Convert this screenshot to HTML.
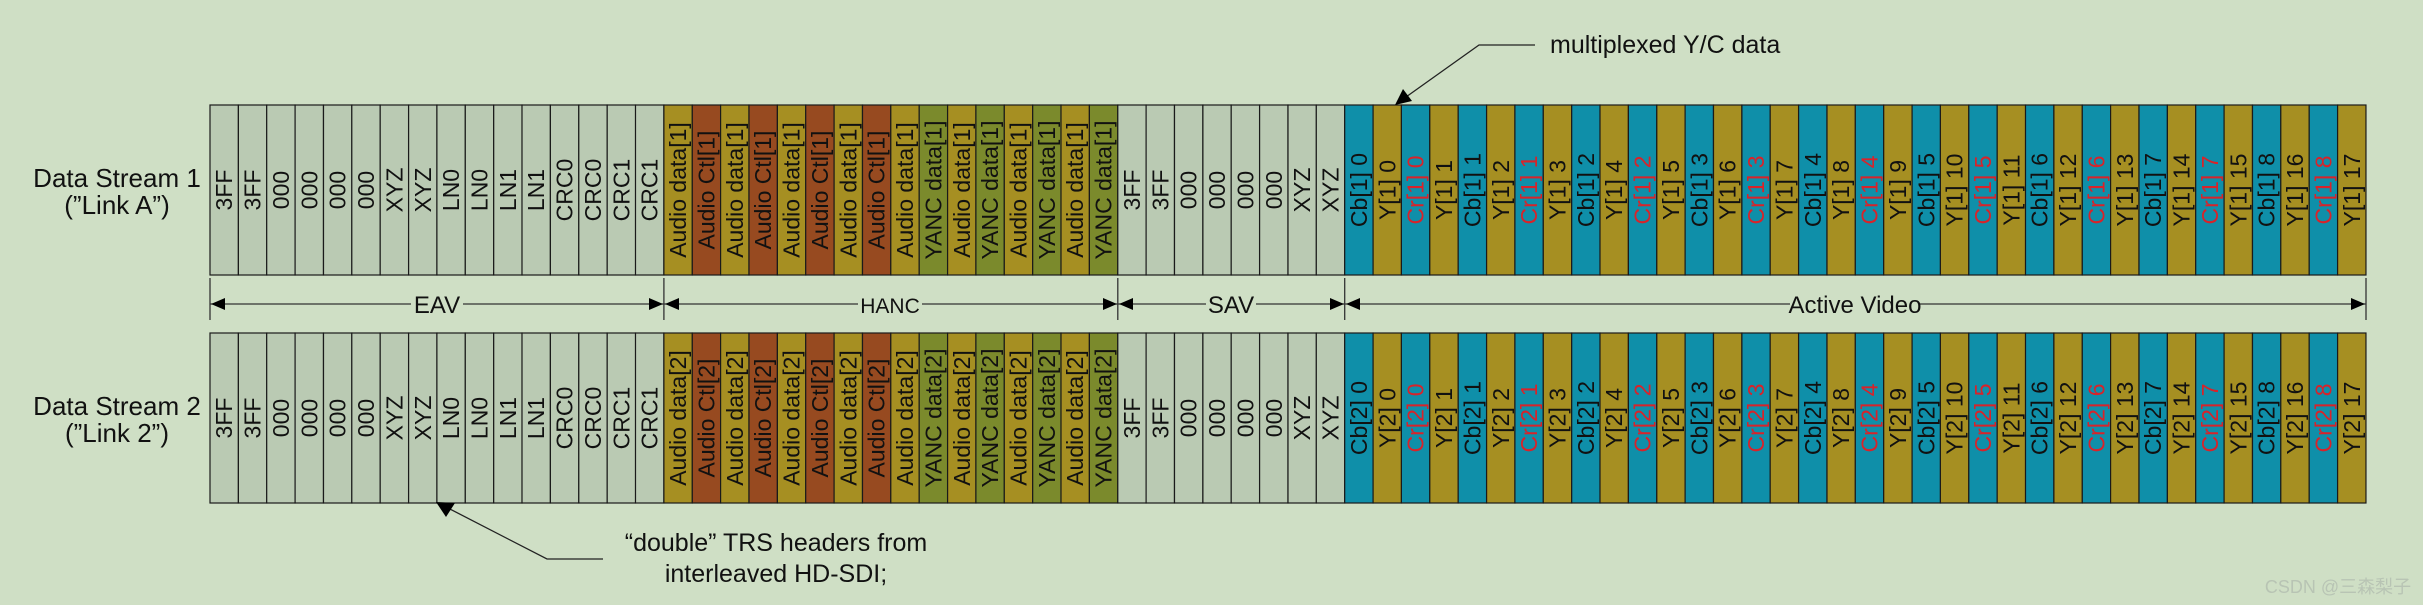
<!DOCTYPE html>
<html><head><meta charset="utf-8"><style>
html,body{margin:0;padding:0;background:#cfdfc5;}
svg{display:block;font-family:"Liberation Sans","Noto Sans CJK SC",sans-serif;}
rect.c{width:28.37px;height:170px;stroke:#1a1a1a;stroke-width:1.2;}
.g rect{fill:#bacab3}.o rect{fill:#a68f22}.r rect{fill:#974a20}.v rect{fill:#7b8a2c}.b rect{fill:#0f8fa9}
text.t{font-size:23px;fill:#111;text-anchor:middle;dominant-baseline:central;}
.red text.t{fill:#d8232a}
</style></head><body>
<svg width="2423" height="605" viewBox="0 0 2423 605" xmlns="http://www.w3.org/2000/svg">
<rect width="2423" height="605" fill="#cfdfc5"/>
<defs>
<g id="x"/>
</defs>
<!-- left labels -->
<text x="117" y="187" font-size="26" text-anchor="middle" fill="#111">Data Stream 1</text>
<text x="117" y="214" font-size="26" text-anchor="middle" fill="#111">(”Link A”)</text>
<text x="117" y="415" font-size="26" text-anchor="middle" fill="#111">Data Stream 2</text>
<text x="117" y="442" font-size="26" text-anchor="middle" fill="#111">(”Link 2”)</text>

<!-- EAV -->
<g class="g" transform="translate(210,0)"><rect class="c" y="105"/><rect class="c" y="333"/><text class="t" transform="translate(14.2,190) rotate(-90)">3FF</text><text class="t" transform="translate(14.2,418) rotate(-90)">3FF</text></g>
<g class="g" transform="translate(238.4,0)"><rect class="c" y="105"/><rect class="c" y="333"/><text class="t" transform="translate(14.2,190) rotate(-90)">3FF</text><text class="t" transform="translate(14.2,418) rotate(-90)">3FF</text></g>
<g class="g" transform="translate(266.7,0)"><rect class="c" y="105"/><rect class="c" y="333"/><text class="t" transform="translate(14.2,190) rotate(-90)">000</text><text class="t" transform="translate(14.2,418) rotate(-90)">000</text></g>
<g class="g" transform="translate(295.1,0)"><rect class="c" y="105"/><rect class="c" y="333"/><text class="t" transform="translate(14.2,190) rotate(-90)">000</text><text class="t" transform="translate(14.2,418) rotate(-90)">000</text></g>
<g class="g" transform="translate(323.5,0)"><rect class="c" y="105"/><rect class="c" y="333"/><text class="t" transform="translate(14.2,190) rotate(-90)">000</text><text class="t" transform="translate(14.2,418) rotate(-90)">000</text></g>
<g class="g" transform="translate(351.8,0)"><rect class="c" y="105"/><rect class="c" y="333"/><text class="t" transform="translate(14.2,190) rotate(-90)">000</text><text class="t" transform="translate(14.2,418) rotate(-90)">000</text></g>
<g class="g" transform="translate(380.2,0)"><rect class="c" y="105"/><rect class="c" y="333"/><text class="t" transform="translate(14.2,190) rotate(-90)">XYZ</text><text class="t" transform="translate(14.2,418) rotate(-90)">XYZ</text></g>
<g class="g" transform="translate(408.6,0)"><rect class="c" y="105"/><rect class="c" y="333"/><text class="t" transform="translate(14.2,190) rotate(-90)">XYZ</text><text class="t" transform="translate(14.2,418) rotate(-90)">XYZ</text></g>
<g class="g" transform="translate(436.9,0)"><rect class="c" y="105"/><rect class="c" y="333"/><text class="t" transform="translate(14.2,190) rotate(-90)">LN0</text><text class="t" transform="translate(14.2,418) rotate(-90)">LN0</text></g>
<g class="g" transform="translate(465.3,0)"><rect class="c" y="105"/><rect class="c" y="333"/><text class="t" transform="translate(14.2,190) rotate(-90)">LN0</text><text class="t" transform="translate(14.2,418) rotate(-90)">LN0</text></g>
<g class="g" transform="translate(493.7,0)"><rect class="c" y="105"/><rect class="c" y="333"/><text class="t" transform="translate(14.2,190) rotate(-90)">LN1</text><text class="t" transform="translate(14.2,418) rotate(-90)">LN1</text></g>
<g class="g" transform="translate(522.0,0)"><rect class="c" y="105"/><rect class="c" y="333"/><text class="t" transform="translate(14.2,190) rotate(-90)">LN1</text><text class="t" transform="translate(14.2,418) rotate(-90)">LN1</text></g>
<g class="g" transform="translate(550.4,0)"><rect class="c" y="105"/><rect class="c" y="333"/><text class="t" transform="translate(14.2,190) rotate(-90)">CRC0</text><text class="t" transform="translate(14.2,418) rotate(-90)">CRC0</text></g>
<g class="g" transform="translate(578.8,0)"><rect class="c" y="105"/><rect class="c" y="333"/><text class="t" transform="translate(14.2,190) rotate(-90)">CRC0</text><text class="t" transform="translate(14.2,418) rotate(-90)">CRC0</text></g>
<g class="g" transform="translate(607.2,0)"><rect class="c" y="105"/><rect class="c" y="333"/><text class="t" transform="translate(14.2,190) rotate(-90)">CRC1</text><text class="t" transform="translate(14.2,418) rotate(-90)">CRC1</text></g>
<g class="g" transform="translate(635.5,0)"><rect class="c" y="105"/><rect class="c" y="333"/><text class="t" transform="translate(14.2,190) rotate(-90)">CRC1</text><text class="t" transform="translate(14.2,418) rotate(-90)">CRC1</text></g>

<!-- HANC -->
<g class="o" transform="translate(663.9,0)"><rect class="c" y="105"/><rect class="c" y="333"/><text class="t" transform="translate(14.2,190) rotate(-90)">Audio data[1]</text><text class="t" transform="translate(14.2,418) rotate(-90)">Audio data[2]</text></g>
<g class="r" transform="translate(692.3,0)"><rect class="c" y="105"/><rect class="c" y="333"/><text class="t" transform="translate(14.2,190) rotate(-90)">Audio Ctl[1]</text><text class="t" transform="translate(14.2,418) rotate(-90)">Audio Ctl[2]</text></g>
<g class="o" transform="translate(720.6,0)"><rect class="c" y="105"/><rect class="c" y="333"/><text class="t" transform="translate(14.2,190) rotate(-90)">Audio data[1]</text><text class="t" transform="translate(14.2,418) rotate(-90)">Audio data[2]</text></g>
<g class="r" transform="translate(749.0,0)"><rect class="c" y="105"/><rect class="c" y="333"/><text class="t" transform="translate(14.2,190) rotate(-90)">Audio Ctl[1]</text><text class="t" transform="translate(14.2,418) rotate(-90)">Audio Ctl[2]</text></g>
<g class="o" transform="translate(777.4,0)"><rect class="c" y="105"/><rect class="c" y="333"/><text class="t" transform="translate(14.2,190) rotate(-90)">Audio data[1]</text><text class="t" transform="translate(14.2,418) rotate(-90)">Audio data[2]</text></g>
<g class="r" transform="translate(805.7,0)"><rect class="c" y="105"/><rect class="c" y="333"/><text class="t" transform="translate(14.2,190) rotate(-90)">Audio Ctl[1]</text><text class="t" transform="translate(14.2,418) rotate(-90)">Audio Ctl[2]</text></g>
<g class="o" transform="translate(834.1,0)"><rect class="c" y="105"/><rect class="c" y="333"/><text class="t" transform="translate(14.2,190) rotate(-90)">Audio data[1]</text><text class="t" transform="translate(14.2,418) rotate(-90)">Audio data[2]</text></g>
<g class="r" transform="translate(862.5,0)"><rect class="c" y="105"/><rect class="c" y="333"/><text class="t" transform="translate(14.2,190) rotate(-90)">Audio Ctl[1]</text><text class="t" transform="translate(14.2,418) rotate(-90)">Audio Ctl[2]</text></g>
<g class="o" transform="translate(890.8,0)"><rect class="c" y="105"/><rect class="c" y="333"/><text class="t" transform="translate(14.2,190) rotate(-90)">Audio data[1]</text><text class="t" transform="translate(14.2,418) rotate(-90)">Audio data[2]</text></g>
<g class="v" transform="translate(919.2,0)"><rect class="c" y="105"/><rect class="c" y="333"/><text class="t" transform="translate(14.2,190) rotate(-90)">YANC data[1]</text><text class="t" transform="translate(14.2,418) rotate(-90)">YANC data[2]</text></g>
<g class="o" transform="translate(947.6,0)"><rect class="c" y="105"/><rect class="c" y="333"/><text class="t" transform="translate(14.2,190) rotate(-90)">Audio data[1]</text><text class="t" transform="translate(14.2,418) rotate(-90)">Audio data[2]</text></g>
<g class="v" transform="translate(975.9,0)"><rect class="c" y="105"/><rect class="c" y="333"/><text class="t" transform="translate(14.2,190) rotate(-90)">YANC data[1]</text><text class="t" transform="translate(14.2,418) rotate(-90)">YANC data[2]</text></g>
<g class="o" transform="translate(1004.3,0)"><rect class="c" y="105"/><rect class="c" y="333"/><text class="t" transform="translate(14.2,190) rotate(-90)">Audio data[1]</text><text class="t" transform="translate(14.2,418) rotate(-90)">Audio data[2]</text></g>
<g class="v" transform="translate(1032.7,0)"><rect class="c" y="105"/><rect class="c" y="333"/><text class="t" transform="translate(14.2,190) rotate(-90)">YANC data[1]</text><text class="t" transform="translate(14.2,418) rotate(-90)">YANC data[2]</text></g>
<g class="o" transform="translate(1061.0,0)"><rect class="c" y="105"/><rect class="c" y="333"/><text class="t" transform="translate(14.2,190) rotate(-90)">Audio data[1]</text><text class="t" transform="translate(14.2,418) rotate(-90)">Audio data[2]</text></g>
<g class="v" transform="translate(1089.4,0)"><rect class="c" y="105"/><rect class="c" y="333"/><text class="t" transform="translate(14.2,190) rotate(-90)">YANC data[1]</text><text class="t" transform="translate(14.2,418) rotate(-90)">YANC data[2]</text></g>

<!-- SAV -->
<g class="g" transform="translate(1117.8,0)"><rect class="c" y="105"/><rect class="c" y="333"/><text class="t" transform="translate(14.2,190) rotate(-90)">3FF</text><text class="t" transform="translate(14.2,418) rotate(-90)">3FF</text></g>
<g class="g" transform="translate(1146.1,0)"><rect class="c" y="105"/><rect class="c" y="333"/><text class="t" transform="translate(14.2,190) rotate(-90)">3FF</text><text class="t" transform="translate(14.2,418) rotate(-90)">3FF</text></g>
<g class="g" transform="translate(1174.5,0)"><rect class="c" y="105"/><rect class="c" y="333"/><text class="t" transform="translate(14.2,190) rotate(-90)">000</text><text class="t" transform="translate(14.2,418) rotate(-90)">000</text></g>
<g class="g" transform="translate(1202.9,0)"><rect class="c" y="105"/><rect class="c" y="333"/><text class="t" transform="translate(14.2,190) rotate(-90)">000</text><text class="t" transform="translate(14.2,418) rotate(-90)">000</text></g>
<g class="g" transform="translate(1231.2,0)"><rect class="c" y="105"/><rect class="c" y="333"/><text class="t" transform="translate(14.2,190) rotate(-90)">000</text><text class="t" transform="translate(14.2,418) rotate(-90)">000</text></g>
<g class="g" transform="translate(1259.6,0)"><rect class="c" y="105"/><rect class="c" y="333"/><text class="t" transform="translate(14.2,190) rotate(-90)">000</text><text class="t" transform="translate(14.2,418) rotate(-90)">000</text></g>
<g class="g" transform="translate(1288.0,0)"><rect class="c" y="105"/><rect class="c" y="333"/><text class="t" transform="translate(14.2,190) rotate(-90)">XYZ</text><text class="t" transform="translate(14.2,418) rotate(-90)">XYZ</text></g>
<g class="g" transform="translate(1316.3,0)"><rect class="c" y="105"/><rect class="c" y="333"/><text class="t" transform="translate(14.2,190) rotate(-90)">XYZ</text><text class="t" transform="translate(14.2,418) rotate(-90)">XYZ</text></g>

<!-- Active video -->
<g class="b" transform="translate(1344.7,0)"><rect class="c" y="105"/><rect class="c" y="333"/><text class="t" transform="translate(14.2,190) rotate(-90)">Cb[1] 0</text><text class="t" transform="translate(14.2,418) rotate(-90)">Cb[2] 0</text></g>
<g class="o" transform="translate(1373.1,0)"><rect class="c" y="105"/><rect class="c" y="333"/><text class="t" transform="translate(14.2,190) rotate(-90)">Y[1] 0</text><text class="t" transform="translate(14.2,418) rotate(-90)">Y[2] 0</text></g>
<g class="b red" transform="translate(1401.4,0)"><rect class="c" y="105"/><rect class="c" y="333"/><text class="t" transform="translate(14.2,190) rotate(-90)">Cr[1] 0</text><text class="t" transform="translate(14.2,418) rotate(-90)">Cr[2] 0</text></g>
<g class="o" transform="translate(1429.8,0)"><rect class="c" y="105"/><rect class="c" y="333"/><text class="t" transform="translate(14.2,190) rotate(-90)">Y[1] 1</text><text class="t" transform="translate(14.2,418) rotate(-90)">Y[2] 1</text></g>
<g class="b" transform="translate(1458.2,0)"><rect class="c" y="105"/><rect class="c" y="333"/><text class="t" transform="translate(14.2,190) rotate(-90)">Cb[1] 1</text><text class="t" transform="translate(14.2,418) rotate(-90)">Cb[2] 1</text></g>
<g class="o" transform="translate(1486.6,0)"><rect class="c" y="105"/><rect class="c" y="333"/><text class="t" transform="translate(14.2,190) rotate(-90)">Y[1] 2</text><text class="t" transform="translate(14.2,418) rotate(-90)">Y[2] 2</text></g>
<g class="b red" transform="translate(1514.9,0)"><rect class="c" y="105"/><rect class="c" y="333"/><text class="t" transform="translate(14.2,190) rotate(-90)">Cr[1] 1</text><text class="t" transform="translate(14.2,418) rotate(-90)">Cr[2] 1</text></g>
<g class="o" transform="translate(1543.3,0)"><rect class="c" y="105"/><rect class="c" y="333"/><text class="t" transform="translate(14.2,190) rotate(-90)">Y[1] 3</text><text class="t" transform="translate(14.2,418) rotate(-90)">Y[2] 3</text></g>
<g class="b" transform="translate(1571.7,0)"><rect class="c" y="105"/><rect class="c" y="333"/><text class="t" transform="translate(14.2,190) rotate(-90)">Cb[1] 2</text><text class="t" transform="translate(14.2,418) rotate(-90)">Cb[2] 2</text></g>
<g class="o" transform="translate(1600.0,0)"><rect class="c" y="105"/><rect class="c" y="333"/><text class="t" transform="translate(14.2,190) rotate(-90)">Y[1] 4</text><text class="t" transform="translate(14.2,418) rotate(-90)">Y[2] 4</text></g>
<g class="b red" transform="translate(1628.4,0)"><rect class="c" y="105"/><rect class="c" y="333"/><text class="t" transform="translate(14.2,190) rotate(-90)">Cr[1] 2</text><text class="t" transform="translate(14.2,418) rotate(-90)">Cr[2] 2</text></g>
<g class="o" transform="translate(1656.8,0)"><rect class="c" y="105"/><rect class="c" y="333"/><text class="t" transform="translate(14.2,190) rotate(-90)">Y[1] 5</text><text class="t" transform="translate(14.2,418) rotate(-90)">Y[2] 5</text></g>
<g class="b" transform="translate(1685.1,0)"><rect class="c" y="105"/><rect class="c" y="333"/><text class="t" transform="translate(14.2,190) rotate(-90)">Cb[1] 3</text><text class="t" transform="translate(14.2,418) rotate(-90)">Cb[2] 3</text></g>
<g class="o" transform="translate(1713.5,0)"><rect class="c" y="105"/><rect class="c" y="333"/><text class="t" transform="translate(14.2,190) rotate(-90)">Y[1] 6</text><text class="t" transform="translate(14.2,418) rotate(-90)">Y[2] 6</text></g>
<g class="b red" transform="translate(1741.9,0)"><rect class="c" y="105"/><rect class="c" y="333"/><text class="t" transform="translate(14.2,190) rotate(-90)">Cr[1] 3</text><text class="t" transform="translate(14.2,418) rotate(-90)">Cr[2] 3</text></g>
<g class="o" transform="translate(1770.2,0)"><rect class="c" y="105"/><rect class="c" y="333"/><text class="t" transform="translate(14.2,190) rotate(-90)">Y[1] 7</text><text class="t" transform="translate(14.2,418) rotate(-90)">Y[2] 7</text></g>
<g class="b" transform="translate(1798.6,0)"><rect class="c" y="105"/><rect class="c" y="333"/><text class="t" transform="translate(14.2,190) rotate(-90)">Cb[1] 4</text><text class="t" transform="translate(14.2,418) rotate(-90)">Cb[2] 4</text></g>
<g class="o" transform="translate(1827.0,0)"><rect class="c" y="105"/><rect class="c" y="333"/><text class="t" transform="translate(14.2,190) rotate(-90)">Y[1] 8</text><text class="t" transform="translate(14.2,418) rotate(-90)">Y[2] 8</text></g>
<g class="b red" transform="translate(1855.3,0)"><rect class="c" y="105"/><rect class="c" y="333"/><text class="t" transform="translate(14.2,190) rotate(-90)">Cr[1] 4</text><text class="t" transform="translate(14.2,418) rotate(-90)">Cr[2] 4</text></g>
<g class="o" transform="translate(1883.7,0)"><rect class="c" y="105"/><rect class="c" y="333"/><text class="t" transform="translate(14.2,190) rotate(-90)">Y[1] 9</text><text class="t" transform="translate(14.2,418) rotate(-90)">Y[2] 9</text></g>
<g class="b" transform="translate(1912.1,0)"><rect class="c" y="105"/><rect class="c" y="333"/><text class="t" transform="translate(14.2,190) rotate(-90)">Cb[1] 5</text><text class="t" transform="translate(14.2,418) rotate(-90)">Cb[2] 5</text></g>
<g class="o" transform="translate(1940.4,0)"><rect class="c" y="105"/><rect class="c" y="333"/><text class="t" transform="translate(14.2,190) rotate(-90)">Y[1] 10</text><text class="t" transform="translate(14.2,418) rotate(-90)">Y[2] 10</text></g>
<g class="b red" transform="translate(1968.8,0)"><rect class="c" y="105"/><rect class="c" y="333"/><text class="t" transform="translate(14.2,190) rotate(-90)">Cr[1] 5</text><text class="t" transform="translate(14.2,418) rotate(-90)">Cr[2] 5</text></g>
<g class="o" transform="translate(1997.2,0)"><rect class="c" y="105"/><rect class="c" y="333"/><text class="t" transform="translate(14.2,190) rotate(-90)">Y[1] 11</text><text class="t" transform="translate(14.2,418) rotate(-90)">Y[2] 11</text></g>
<g class="b" transform="translate(2025.5,0)"><rect class="c" y="105"/><rect class="c" y="333"/><text class="t" transform="translate(14.2,190) rotate(-90)">Cb[1] 6</text><text class="t" transform="translate(14.2,418) rotate(-90)">Cb[2] 6</text></g>
<g class="o" transform="translate(2053.9,0)"><rect class="c" y="105"/><rect class="c" y="333"/><text class="t" transform="translate(14.2,190) rotate(-90)">Y[1] 12</text><text class="t" transform="translate(14.2,418) rotate(-90)">Y[2] 12</text></g>
<g class="b red" transform="translate(2082.3,0)"><rect class="c" y="105"/><rect class="c" y="333"/><text class="t" transform="translate(14.2,190) rotate(-90)">Cr[1] 6</text><text class="t" transform="translate(14.2,418) rotate(-90)">Cr[2] 6</text></g>
<g class="o" transform="translate(2110.6,0)"><rect class="c" y="105"/><rect class="c" y="333"/><text class="t" transform="translate(14.2,190) rotate(-90)">Y[1] 13</text><text class="t" transform="translate(14.2,418) rotate(-90)">Y[2] 13</text></g>
<g class="b" transform="translate(2139.0,0)"><rect class="c" y="105"/><rect class="c" y="333"/><text class="t" transform="translate(14.2,190) rotate(-90)">Cb[1] 7</text><text class="t" transform="translate(14.2,418) rotate(-90)">Cb[2] 7</text></g>
<g class="o" transform="translate(2167.4,0)"><rect class="c" y="105"/><rect class="c" y="333"/><text class="t" transform="translate(14.2,190) rotate(-90)">Y[1] 14</text><text class="t" transform="translate(14.2,418) rotate(-90)">Y[2] 14</text></g>
<g class="b red" transform="translate(2195.7,0)"><rect class="c" y="105"/><rect class="c" y="333"/><text class="t" transform="translate(14.2,190) rotate(-90)">Cr[1] 7</text><text class="t" transform="translate(14.2,418) rotate(-90)">Cr[2] 7</text></g>
<g class="o" transform="translate(2224.1,0)"><rect class="c" y="105"/><rect class="c" y="333"/><text class="t" transform="translate(14.2,190) rotate(-90)">Y[1] 15</text><text class="t" transform="translate(14.2,418) rotate(-90)">Y[2] 15</text></g>
<g class="b" transform="translate(2252.5,0)"><rect class="c" y="105"/><rect class="c" y="333"/><text class="t" transform="translate(14.2,190) rotate(-90)">Cb[1] 8</text><text class="t" transform="translate(14.2,418) rotate(-90)">Cb[2] 8</text></g>
<g class="o" transform="translate(2280.8,0)"><rect class="c" y="105"/><rect class="c" y="333"/><text class="t" transform="translate(14.2,190) rotate(-90)">Y[1] 16</text><text class="t" transform="translate(14.2,418) rotate(-90)">Y[2] 16</text></g>
<g class="b red" transform="translate(2309.2,0)"><rect class="c" y="105"/><rect class="c" y="333"/><text class="t" transform="translate(14.2,190) rotate(-90)">Cr[1] 8</text><text class="t" transform="translate(14.2,418) rotate(-90)">Cr[2] 8</text></g>
<g class="o" transform="translate(2337.6,0)"><rect class="c" y="105"/><rect class="c" y="333"/><text class="t" transform="translate(14.2,190) rotate(-90)">Y[1] 17</text><text class="t" transform="translate(14.2,418) rotate(-90)">Y[2] 17</text></g>

<!-- dimension lines -->
<g stroke="#333" stroke-width="1.3">
<line x1="210" y1="278" x2="210" y2="320"/>
<line x1="663.9" y1="278" x2="663.9" y2="320"/>
<line x1="1117.8" y1="278" x2="1117.8" y2="320"/>
<line x1="1344.7" y1="278" x2="1344.7" y2="320"/>
<line x1="2366" y1="278" x2="2366" y2="320"/>
<line x1="210" y1="304" x2="2366" y2="304"/>
</g>
<g fill="#000">
<polygon points="211,304 225,298 225,310"/>
<polygon points="663,304 649,298 649,310"/>
<polygon points="665,304 679,298 679,310"/>
<polygon points="1117,304 1103,298 1103,310"/>
<polygon points="1119,304 1133,298 1133,310"/>
<polygon points="1344,304 1330,298 1330,310"/>
<polygon points="1346,304 1360,298 1360,310"/>
<polygon points="2365,304 2351,298 2351,310"/>
</g>
<g font-size="24" text-anchor="middle" fill="#111">
<rect x="411" y="290" width="52" height="28" fill="#cfdfc5"/>
<text x="437" y="313">EAV</text>
<rect x="858" y="290" width="64" height="28" fill="#cfdfc5"/>
<text x="890" y="313" font-size="21">HANC</text>
<rect x="1206" y="290" width="50" height="28" fill="#cfdfc5"/>
<text x="1231" y="313">SAV</text>
<rect x="1790" y="290" width="130" height="28" fill="#cfdfc5"/>
<text x="1855" y="313">Active Video</text>
</g>

<!-- annotations -->
<g stroke="#222" stroke-width="1.3" fill="none">
<polyline points="1535,45 1479,45 1406,97"/>
<polyline points="603,559 547,559 446,507"/>
</g>
<polygon points="1395,105 1403,89 1412,101" fill="#000"/>
<polygon points="436,502 455,503 446,517" fill="#000"/>
<text x="1550" y="53" font-size="25" fill="#111">multiplexed Y/C data</text>
<text x="776" y="551" font-size="25" fill="#111" text-anchor="middle">“double” TRS headers from</text>
<text x="776" y="582" font-size="25" fill="#111" text-anchor="middle">interleaved HD-SDI;</text>

<text x="2338" y="593" font-size="18" fill="#b8c4b4" text-anchor="middle">CSDN @三森梨子</text>
</svg>
</body></html>
